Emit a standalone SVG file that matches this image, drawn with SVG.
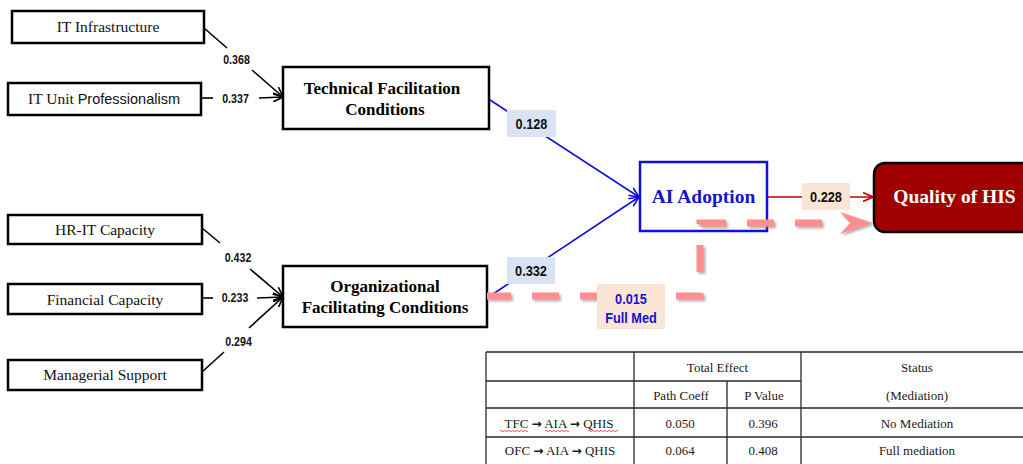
<svg xmlns="http://www.w3.org/2000/svg" width="1023" height="464" viewBox="0 0 1023 464">
<style>
.box{fill:#fff;stroke:#000;stroke-width:2.5}
.nt{font-family:"Liberation Serif","Times New Roman",serif;font-size:15.5px;fill:#111;text-anchor:middle}
.bt{font-family:"Liberation Serif","Times New Roman",serif;font-size:17px;font-weight:bold;fill:#000;text-anchor:middle}
.bigt{font-family:"Liberation Serif","Times New Roman",serif;font-size:19.5px;font-weight:bold;text-anchor:middle}
.sn{font-family:"Liberation Sans",Arial,sans-serif;font-size:12.5px;font-weight:bold;fill:#111;text-anchor:middle}
.ln{font-family:"Liberation Sans",Arial,sans-serif;font-size:15px;font-weight:bold;fill:#111;text-anchor:middle}
.bl{fill:#1414c8}
.blk{stroke:#000;stroke-width:1.6;fill:none}
.blu{stroke:#1010d8;stroke-width:1.6;fill:none}
.red{stroke:#c00000;stroke-width:1.6;fill:none}
.lb{fill:#dae3f3}
.lp{fill:#fbe5d6}
.tl{stroke:#2a2a2a;stroke-width:1.3;fill:none}
.tt{font-family:"Liberation Serif","Times New Roman",serif;font-size:13px;fill:#1a1a1a;text-anchor:middle}
.ar{font-family:"DejaVu Sans",sans-serif;font-weight:bold;font-size:12px}
</style>
<defs>
<marker id="ak" viewBox="0 0 10 10" refX="10" refY="5" markerWidth="10" markerHeight="10" markerUnits="userSpaceOnUse" orient="auto"><path d="M0,0.5 L10,5 L0,9.5" fill="none" stroke="#000" stroke-width="1.6"/></marker>
<marker id="ab" viewBox="0 0 10 10" refX="10" refY="5" markerWidth="10" markerHeight="10" markerUnits="userSpaceOnUse" orient="auto"><path d="M0,0.5 L10,5 L0,9.5" fill="none" stroke="#1010d8" stroke-width="1.6"/></marker>
<marker id="ar" viewBox="0 0 10 10" refX="10" refY="5" markerWidth="10" markerHeight="10" markerUnits="userSpaceOnUse" orient="auto"><path d="M0,0.5 L10,5 L0,9.5" fill="none" stroke="#c00000" stroke-width="1.6"/></marker>
<filter id="sh" x="-20%" y="-50%" width="140%" height="200%"><feDropShadow dx="2" dy="2" stdDeviation="1" flood-color="#777" flood-opacity="0.55"/></filter>
</defs>

<g id="connectors">
<line class="blk" x1="204" y1="28" x2="227" y2="48"/>
<line class="blk" x1="252" y1="70" x2="283" y2="97" marker-end="url(#ak)"/>
<line class="blk" x1="201" y1="98" x2="213" y2="98"/>
<line class="blk" x1="259" y1="98" x2="283" y2="97" marker-end="url(#ak)"/>
<line class="blk" x1="202" y1="228" x2="220" y2="243"/>
<line class="blk" x1="250" y1="269" x2="283" y2="297" marker-end="url(#ak)"/>
<line class="blk" x1="202" y1="298" x2="213" y2="298"/>
<line class="blk" x1="257" y1="298" x2="283" y2="297" marker-end="url(#ak)"/>
<line class="blk" x1="202" y1="372" x2="224" y2="352"/>
<line class="blk" x1="249" y1="328" x2="283" y2="297" marker-end="url(#ak)"/>
<line class="blu" x1="487" y1="98" x2="639" y2="197" marker-end="url(#ab)"/>
<line class="blu" x1="487" y1="298" x2="639" y2="197" marker-end="url(#ab)"/>
<line class="red" x1="767" y1="197" x2="873" y2="197" marker-end="url(#ar)"/>
<text class="sn" transform="translate(236.5,64) scale(0.85,1)">0.368</text>
<text class="sn" transform="translate(235.5,103) scale(0.85,1)">0.337</text>
<text class="sn" transform="translate(238,262) scale(0.85,1)">0.432</text>
<text class="sn" transform="translate(235,302) scale(0.85,1)">0.233</text>
<text class="sn" transform="translate(238.5,346) scale(0.85,1)">0.294</text>
</g>

<g id="n-it-infrastructure">
<rect class="box" x="12" y="11" width="192" height="32"/>
<text class="nt" x="108" y="32">IT Infrastructure</text>
</g>
<g id="n-it-unit">
<rect class="box" x="8" y="83" width="193" height="32"/>
<text class="nt" x="104" y="104">IT Unit <tspan font-family="'Liberation Sans',Arial,sans-serif" font-size="14.5px">Professionalism</tspan></text>
</g>
<g id="n-tfc">
<rect class="box" x="283" y="67" width="206" height="62"/>
<text class="bt" x="382" y="94">Technical Facilitation</text>
<text class="bt" x="385" y="115">Conditions</text>
</g>
<g id="n-hr-it">
<rect class="box" x="8" y="215" width="194" height="29"/>
<text class="nt" x="105" y="235">HR-IT Capacity</text>
</g>
<g id="n-financial">
<rect class="box" x="8" y="284" width="194" height="30"/>
<text class="nt" x="105" y="305">Financial Capacity</text>
</g>
<g id="n-managerial">
<rect class="box" x="8" y="360" width="194" height="30"/>
<text class="nt" x="105" y="380">Managerial Support</text>
</g>
<g id="n-ofc">
<rect class="box" x="283" y="266" width="204" height="61"/>
<text class="bt" x="385" y="292">Organizational</text>
<text class="bt" x="385" y="313">Facilitating Conditions</text>
</g>
<g id="n-ai">
<rect x="640" y="162" width="127" height="69" fill="#fff" stroke="#1010d8" stroke-width="2.5"/>
<text class="bigt" x="703.5" y="203" fill="#1414c8">AI Adoption</text>
</g>
<g id="n-quality">
<rect x="874" y="163" width="170" height="69" rx="11" ry="11" fill="#a00000" stroke="#000" stroke-width="2.5"/>
<text class="bigt" x="954.5" y="203" fill="#fff" font-size="20px">Quality of HIS</text>
</g>

<g id="mediation-path" filter="url(#sh)">
<path d="M487,296 H700 V223 H842" fill="none" stroke="#ff8f8f" stroke-width="7" stroke-dasharray="27 21" stroke-dashoffset="3"/>
<path d="M873,223 L840,212 L850,223 L840,234 Z" fill="#ff8f8f"/>
</g>

<g id="labels">
<rect class="lb" x="507" y="110" width="49" height="27"/>
<text class="ln" transform="translate(531.5,129) scale(0.85,1)">0.128</text>
<rect class="lb" x="507" y="257" width="48" height="27"/>
<text class="ln" transform="translate(531,276) scale(0.85,1)">0.332</text>
<rect class="lp" x="802" y="183" width="48" height="27"/>
<text class="ln" transform="translate(826,202) scale(0.85,1)">0.228</text>
<rect class="lp" x="597" y="284" width="68" height="45"/>
<text class="ln bl" transform="translate(631,304) scale(0.85,1)">0.015</text>
<text class="ln bl" transform="translate(631,323) scale(0.85,1)">Full Med</text>
</g>

<g id="table">
<path class="tl" d="M486,352 H1023 M486,352 V464 M634,352 V464 M801,352 V464 M486,381 H801 M727,381 V464 M486,408 H1023 M486,437 H1023"/>
<text class="tt" x="717.5" y="372">Total Effect</text>
<text class="tt" x="917" y="372">Status</text>
<text class="tt" x="681" y="400">Path Coeff</text>
<text class="tt" x="764" y="400">P Value</text>
<text class="tt" x="917" y="400">(Mediation)</text>
<text class="tt" x="559" y="428">TFC <tspan class="ar">→</tspan> AIA <tspan class="ar">→</tspan> QHIS</text>
<text class="tt" x="680" y="428">0.050</text>
<text class="tt" x="763" y="428">0.396</text>
<text class="tt" x="917" y="428">No Mediation</text>
<text class="tt" x="560" y="455">OFC <tspan class="ar">→</tspan> AIA <tspan class="ar">→</tspan> QHIS</text>
<text class="tt" x="680" y="455">0.064</text>
<text class="tt" x="763" y="455">0.408</text>
<text class="tt" x="917" y="455">Full mediation</text>
<path d="M500,431 q1,-1.2 2,0 t2,0 t2,0 t2,0 t2,0 t2,0 t2,0 t2,0 t2,0 t2,0 t2,0 t2,0 t2,0 t2,0 M545,431 q1,-1.2 2,0 t2,0 t2,0 t2,0 t2,0 t2,0 t2,0 t2,0 t2,0 t2,0 t2,0 t2,0 M588,431 q1,-1.2 2,0 t2,0 t2,0 t2,0 t2,0 t2,0 t2,0 t2,0 t2,0 t2,0 t2,0 t2,0 t2,0 t2,0 t2,0" fill="none" stroke="#e03030" stroke-width="0.8"/>
</g>
</svg>
